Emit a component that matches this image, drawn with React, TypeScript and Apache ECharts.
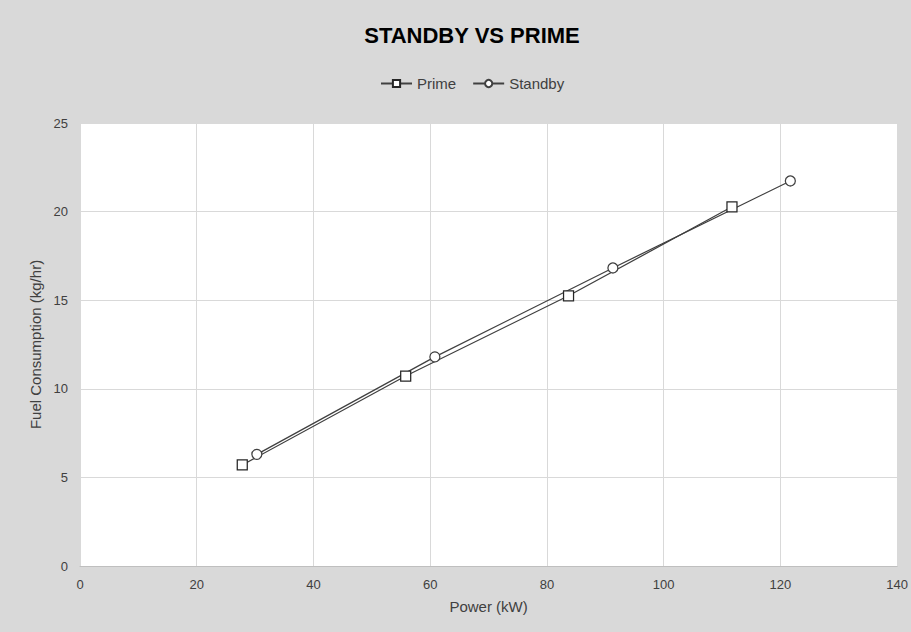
import React, { useEffect, useRef } from "react";
import * as echarts from "echarts";

const primePower = [27.8, 55.8, 83.7, 111.7];
const primeFuel = [5.7, 10.72, 15.25, 20.27];
const standbyPower = [30.3, 60.8, 91.3, 121.7];
const standbyFuel = [6.3, 11.8, 16.82, 21.73];

const FONT = "'Liberation Sans', Arial, sans-serif";

export default function App() {
  const ref = useRef<HTMLDivElement>(null);
  useEffect(() => {
    document.body.style.margin = "0";
    const chart = echarts.init(ref.current!, null, { renderer: "svg" });
    const lineColor = "#404040";
    chart.setOption({
      animation: false,
      backgroundColor: "#d9d9d9",
      textStyle: { fontFamily: FONT },
      title: {
        text: "STANDBY VS PRIME",
        left: 467,
        textAlign: "center",
        top: 19,
        textStyle: { fontSize: 22, fontWeight: "bold", color: "#000", fontFamily: FONT },
      },
      legend: {
        top: 71,
        left: 375,
        itemWidth: 31,
        itemHeight: 9,
        itemGap: 16,
        textStyle: { fontSize: 15, color: "#404040", fontFamily: FONT },
        data: ["Prime", "Standby"],
      },
      grid: {
        left: 80,
        right: 11,
        top: 123,
        bottom: 66,
        show: true,
        backgroundColor: "#ffffff",
        borderWidth: 0,
      },
      xAxis: {
        type: "value",
        min: 0,
        max: 140,
        interval: 20,
        name: "Power (kW)",
        nameLocation: "middle",
        nameGap: 33,
        nameTextStyle: { fontSize: 15, color: "#404040", fontFamily: FONT },
        axisLine: { show: true, lineStyle: { color: "#bfbfbf" } },
        axisTick: { show: false },
        axisLabel: { fontSize: 13, color: "#404040", margin: 12, fontFamily: FONT },
        splitLine: { show: true, lineStyle: { color: "#d9d9d9" } },
      },
      yAxis: {
        type: "value",
        min: 0,
        max: 25,
        interval: 5,
        name: "Fuel Consumption (kg/hr)",
        nameLocation: "middle",
        nameGap: 36,
        nameTextStyle: { fontSize: 15, color: "#404040", fontFamily: FONT },
        axisLine: { show: true, lineStyle: { color: "#d9d9d9" } },
        axisTick: { show: false },
        axisLabel: { fontSize: 13, color: "#404040", margin: 12, fontFamily: FONT },
        splitLine: { show: true, lineStyle: { color: "#d9d9d9" } },
      },
      series: [
        {
          name: "Prime",
          type: "line",
          data: primePower.map((x, i) => [x, primeFuel[i]]),
          symbol: "rect",
          symbolSize: 10,
          lineStyle: { color: lineColor, width: 1.25 },
          itemStyle: { color: "#ffffff", borderColor: "#262626", borderWidth: 1.25 },
        },
        {
          name: "Standby",
          type: "line",
          data: standbyPower.map((x, i) => [x, standbyFuel[i]]),
          symbol: "circle",
          symbolSize: 10,
          lineStyle: { color: lineColor, width: 1.25 },
          itemStyle: { color: "#ffffff", borderColor: "#404040", borderWidth: 1.25 },
        },
      ],
    });
    return () => chart.dispose();
  }, []);
  return <div ref={ref} style={{ width: 911, height: 632 }} />;
}
